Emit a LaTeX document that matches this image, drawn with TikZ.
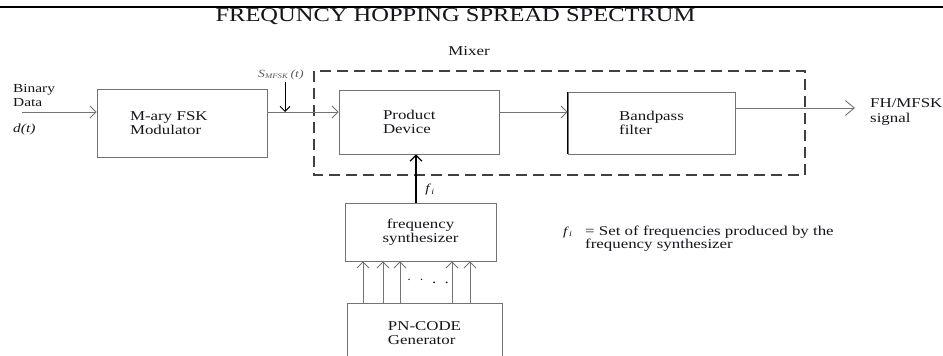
\documentclass[tikz,border=0pt]{standalone}
\usepackage{fontspec}
\setmainfont{Liberation Serif}[FakeStretch=1.25]
\usepackage{tikz}
\usetikzlibrary{arrows.meta, positioning}
\definecolor{ink}{RGB}{20,20,28}
\definecolor{edge}{RGB}{115,115,115}

\tikzset{
  blk/.style={draw=edge, line width=0.9pt, text=ink, font=\fontsize{13.5}{14.5}\selectfont},
  arr/.style={draw=edge, line width=0.9pt, -{Straight Barb[length=6pt, width=12pt]}},
  lbl/.style={text=ink, font=\fontsize{13.5}{14.5}\selectfont, inner sep=0pt},
}

\begin{document}
\begin{tikzpicture}[x=1pt, y=-1pt]
  \useasboundingbox (0,0) rectangle (943,356);
  \draw[line width=1.1pt] (0,7) -- (943,7);
  \node[lbl, font=\fontsize{19.6}{22}\selectfont] (title) at (455.5,16.5) {FREQUNCY HOPPING SPREAD SPECTRUM};

  % mixer frame
  \draw[black!75, line width=1.1pt, dash pattern=on 11pt off 6pt] (314,71) rectangle (805,175);
  \node[lbl] (mix) at (469,51) {Mixer};

  % blocks
  \node[blk, minimum height=68pt, inner xsep=33pt, text width=104pt, align=left] (fsk) at (182,123) {M-ary FSK\\Modulator};
  \node[blk, minimum height=64pt, inner xsep=44pt, text width=72pt, align=left] (prod) at (419,122) {Product\\Device};
  \node[blk, minimum width=167pt, minimum height=62pt, align=left] (bpf) at (651.5,123) {Bandpass\\filter};
  \node[blk, minimum width=151pt, minimum height=58pt, align=center] (synth) at (420.5,232) {frequency\\synthesizer};
  \node[blk, minimum width=155pt, minimum height=60pt, align=left] (pn) at (424.5,333) {PN-CODE\\Generator};
  \draw[black, line width=1.1pt] (bpf.north west) -- (bpf.south west);

  % signal path
  \coordinate (din) at (22,112);
  \coordinate (stap) at (285,82);
  \coordinate (dout) at (855,108);
  \coordinate (fi) at (416,0);
  \draw[arr] (din) -- (din -| fsk.west);
  \draw[arr] (fsk.east |- din) -- (prod.west |- din);
  \draw[arr, draw=black, -{Straight Barb[length=5pt, width=10pt]}] (stap) -- (stap |- din);
  \draw[arr] (prod.east |- din) -- (bpf.west |- din);
  \draw[arr, -{Straight Barb[length=9pt, width=15pt]}] (bpf.east |- dout) -- (dout);
  \draw[arr, draw=black, line width=1.1pt] (synth.north -| fi) -- (prod.south -| fi);
  \foreach \x in {363,383,400,452,470}
    \draw[arr] (pn.north -| \x,0) -- (synth.south -| \x,0);

  % labels
  \node[lbl, font=\fontsize{12.3}{13}\selectfont, anchor=base west] (bin) at (13,92) {Binary};
  \node[lbl, font=\fontsize{12.3}{13}\selectfont, anchor=base west] (dat) at (13,106) {Data};
  \node[lbl, font=\fontsize{12.3}{13}\selectfont, anchor=base west] (dt) at (13,132) {\textit{d(t)}};
  \node[lbl, text=black!65, font=\fontsize{11}{12}\selectfont, anchor=base west] (slab) at (258,77) {\textit{S}\textsubscript{\textit{\fontsize{7}{8}\selectfont MFSK}}\,\textit{(t)}};
  \node[lbl, font=\fontsize{12}{13}\selectfont] (filab) at (430,190) {\textit{f}\textsubscript{\textit{i}}};
  \node[lbl, anchor=base west] (out1) at (870,107) {FH/MFSK};
  \node[lbl, anchor=base west] (out2) at (870,122) {signal};
  \node[lbl] (dots) at (428,280) {$\cdot$\ \ $\cdot$\ \ .\ \ .};

  % legend
  \node[lbl, font=\fontsize{12}{13}\selectfont, anchor=base west] (leg0) at (563,235) {\textit{f}\textsubscript{\textit{i}}};
  \node[lbl, anchor=base west] (leg1) at (585,235) {= Set of frequencies produced by the};
  \node[lbl, anchor=base west] (leg2) at (585,248) {frequency synthesizer};
\end{tikzpicture}
\end{document}
